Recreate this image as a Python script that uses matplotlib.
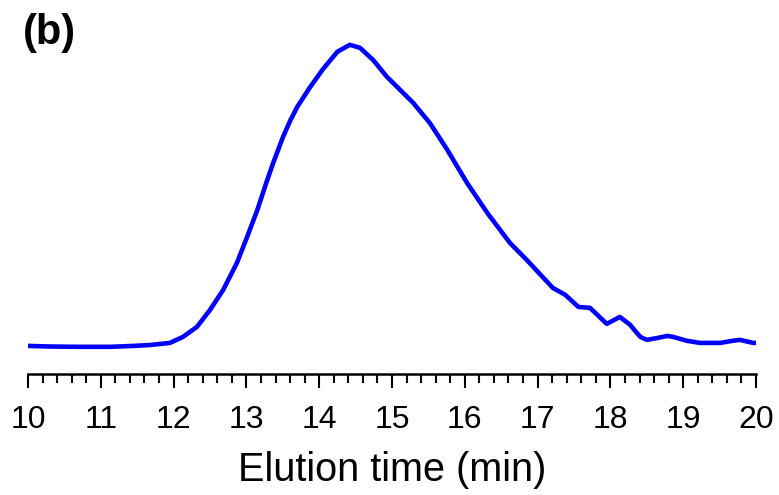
import matplotlib.pyplot as plt
from matplotlib.ticker import MultipleLocator

plt.rcParams['font.family'] = ['Liberation Sans', 'DejaVu Sans']

# GPC trace, normalised detector response
time_min = [10.00, 10.30, 10.71, 11.13, 11.45, 11.68, 11.95, 12.13, 12.32, 12.50,
            12.68, 12.87, 13.01, 13.15, 13.28, 13.37, 13.50, 13.60, 13.70, 13.87,
            14.05, 14.25, 14.42, 14.56, 14.74, 14.93, 15.11, 15.29, 15.52, 15.76,
            16.03, 16.31, 16.62, 16.85, 17.07, 17.21, 17.38, 17.56, 17.72, 17.95,
            18.13, 18.27, 18.41, 18.50, 18.64, 18.78, 18.86, 19.05, 19.23, 19.51,
            19.68, 19.78, 19.96, 20.00]
signal = [0.000, -0.002, -0.003, -0.003, 0.000, 0.003, 0.010, 0.030, 0.063, 0.119,
          0.185, 0.275, 0.361, 0.450, 0.545, 0.607, 0.690, 0.745, 0.792, 0.855,
          0.916, 0.974, 0.997, 0.987, 0.947, 0.891, 0.848, 0.805, 0.738, 0.649,
          0.540, 0.440, 0.341, 0.285, 0.228, 0.192, 0.169, 0.129, 0.126, 0.073,
          0.096, 0.070, 0.030, 0.020, 0.026, 0.033, 0.030, 0.017, 0.010, 0.010,
          0.017, 0.020, 0.010, 0.010]

fig = plt.figure(figsize=(7.79, 4.95), dpi=100)
ax = fig.add_axes([28 / 779, 121 / 495, 728 / 779, 344 / 495])

ax.plot(time_min, signal, color='#0000ff', lw=3.3,
        solid_joinstyle='round', solid_capstyle='round')

ax.set_xlim(10, 20)
ax.set_ylim(-0.093, 1.046)
ax.xaxis.set_major_locator(MultipleLocator(1))
ax.xaxis.set_minor_locator(MultipleLocator(0.2))
ax.tick_params(axis='x', which='major', length=10, width=1.5, labelsize=23, pad=12)
ax.tick_params(axis='x', which='minor', length=6.5, width=1.5)
ax.set_yticks([])
for side in ['top', 'right', 'left']:
    ax.spines[side].set_visible(False)
ax.spines['bottom'].set_linewidth(1.8)
ax.set_xlabel('Elution time (min)', fontsize=28.5, labelpad=12)

fig.text(23 / 779, 1 - 13 / 495, '(b)', fontsize=30, fontweight='bold',
         ha='left', va='top')

fig.savefig('out.png', dpi=100)
